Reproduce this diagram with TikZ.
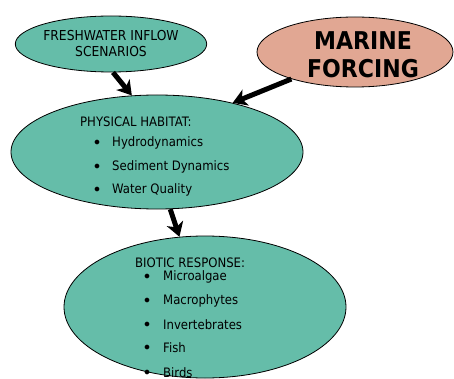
\documentclass[tikz,border=0pt]{standalone}
\usepackage{fontspec}
\setmainfont{DejaVu Sans Condensed}
\usetikzlibrary{shapes.geometric,arrows.meta}
\definecolor{habitat}{RGB}{101,189,169}
\definecolor{salmon}{RGB}{225,167,147}
\begin{document}
\begin{tikzpicture}[x=1pt, y=-1pt, line join=round, font=\fontsize{13}{16}\selectfont, inner sep=0pt,
	blob/.style={ellipse, draw=black, line width=0.8pt, fill=habitat},
	bigarrow/.style={line width=5pt, -{Stealth[length=14pt, width=17pt, inset=4pt]}}]
	\clip (0,0) rectangle (454,379);
	\node[blob, minimum width=187, minimum height=56, align=center,
		font=\fontsize{13.7}{16}\selectfont] (fresh) at (111,44) {FRESHWATER INFLOW\\SCENARIOS};
	\node[blob, fill=salmon, minimum width=196, minimum height=70] (marine) at (355,52) {};
	\node[align=center, font=\fontsize{24.5}{28}\selectfont\bfseries] (marineT) at (363,55) {MARINE\\FORCING};
	\node[blob, minimum width=292, minimum height=114] (phys) at (157,152) {};
	\node[blob, minimum width=282, minimum height=142] (bio) at (205,307) {};
	% physical habitat list
	\node[anchor=west] (physT) at (80,122) {PHYSICAL HABITAT:};
	\foreach \y/\t in {143/Hydrodynamics, 167/Sediment Dynamics, 190/Water Quality}
		\path (97,\y) node{$\bullet$} (112,\y) node[anchor=west]{\t};
	% biotic response list
	\node[anchor=west] (bioT) at (135,263) {BIOTIC RESPONSE:};
	\foreach \y/\t in {277/Microalgae, 301/Macrophytes, 325/Invertebrates, 348/Fish, 373/Birds}
		\path (147,\y) node{$\bullet$} (163,\y) node[anchor=west]{\t};
	% arrows
	\draw[bigarrow] (fresh.-86) -- (phys.114);
	\draw[bigarrow] (marine.203) -- (phys.33);
	\draw[bigarrow] (phys.-77) -- (bio.110);
\end{tikzpicture}
\end{document}
